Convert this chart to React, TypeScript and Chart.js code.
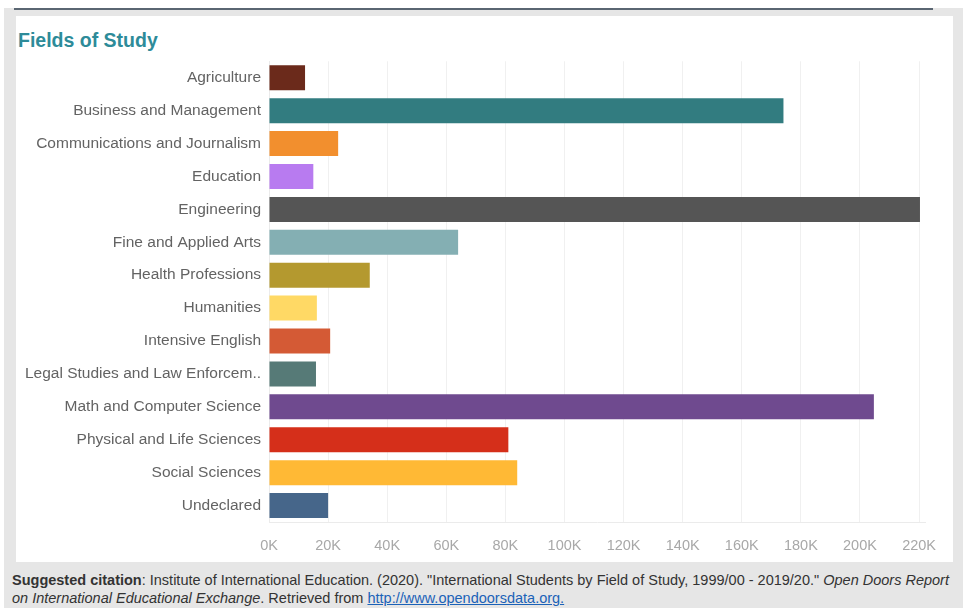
import React, { useEffect, useRef } from "react";
import { Chart, registerables } from "chart.js";

Chart.register(...registerables);

const categories = [
  "Agriculture",
  "Business and Management",
  "Communications and Journalism",
  "Education",
  "Engineering",
  "Fine and Applied Arts",
  "Health Professions",
  "Humanities",
  "Intensive English",
  "Legal Studies and Law Enforcem..",
  "Math and Computer Science",
  "Physical and Life Sciences",
  "Social Sciences",
  "Undeclared",
];

const students = [
  12200, 174100, 23400, 15000, 220300, 64000, 34100, 16200, 20700, 15900,
  204700, 81000, 84000, 20000,
];

const barColors = [
  "#6b2a1b",
  "#327c80",
  "#f28f2e",
  "#b87bf0",
  "#555555",
  "#84afb3",
  "#b4992f",
  "#ffd965",
  "#d45a35",
  "#567a77",
  "#6f4a8f",
  "#d52f1a",
  "#ffb935",
  "#46668a",
];

const tickValues = [0, 20000, 40000, 60000, 80000, 100000, 120000, 140000, 160000, 180000, 200000, 220000];
const tickLabels = ["0K", "20K", "40K", "60K", "80K", "100K", "120K", "140K", "160K", "180K", "200K", "220K"];

const FONT = "'Liberation Sans', Arial, sans-serif";

export default function App() {
  const ref = useRef<HTMLCanvasElement | null>(null);

  useEffect(() => {
    if (!ref.current) return;
    const chart = new Chart(ref.current, {
      type: "bar",
      data: {
        labels: categories,
        datasets: [
          {
            data: students,
            backgroundColor: barColors,
            borderWidth: 0,
            barPercentage: 0.76,
            categoryPercentage: 1,
          },
        ],
      },
      options: {
        indexAxis: "y",
        animation: false,
        responsive: false,
        maintainAspectRatio: false,
        layout: { padding: { top: 4, right: 28, left: 0, bottom: 0 } },
        plugins: {
          legend: { display: false },
          tooltip: { enabled: false },
          title: { display: false },
        },
        scales: {
          x: {
            min: 0,
            max: 222000,
            afterBuildTicks: (scale: any) => {
              scale.ticks = tickValues.map((v) => ({ value: v }));
            },
            afterFit: (scale: any) => {
              scale.height = 40;
            },
            grid: {
              color: "#f0f0f0",
              lineWidth: 1,
              drawTicks: false,
            },
            border: { display: true, color: "#ebebeb" },
            ticks: {
              padding: 15,
              color: "#a8a8a8",
              font: { family: FONT, size: 14.5 },
              maxRotation: 0,
              autoSkip: false,
              callback: (v: any) => {
                const i = tickValues.indexOf(Number(v));
                return i >= 0 ? tickLabels[i] : "";
              },
            },
          },
          y: {
            afterFit: (scale: any) => {
              scale.width = 253;
            },
            grid: { display: false, drawTicks: false },
            border: { display: true, color: "#ebebeb" },
            ticks: {
              padding: 8,
              color: "#636363",
              font: { family: FONT, size: 15.5 },
              autoSkip: false,
            },
          },
        },
      },
    });
    return () => chart.destroy();
  }, []);

  return (
    <div style={{ position: "absolute", left: 0, top: 0, width: 963, height: 608, background: "#ffffff", overflow: "hidden", fontFamily: FONT }}>
      <div style={{ position: "absolute", left: 4, top: 8, width: 959, height: 600, background: "#e6e6e6" }} />
      <div style={{ position: "absolute", left: 14, top: 8, width: 919, height: 2, background: "#5a6672" }} />
      <div style={{ position: "absolute", left: 16, top: 16, width: 937, height: 546, background: "#ffffff" }} />
      <div style={{ position: "absolute", left: 18, top: 28, fontSize: 19.5, fontWeight: "bold", color: "#2d8b99", lineHeight: "24px", whiteSpace: "nowrap" }}>
        Fields of Study
      </div>
      <canvas ref={ref} width={937} height={518} style={{ position: "absolute", left: 16, top: 44, width: 937, height: 518 }} />
      <div style={{ position: "absolute", left: 12, top: 571, width: 951, fontSize: 14.5, lineHeight: "18px", color: "#333333", whiteSpace: "nowrap" }}>
        <div>
          <b>Suggested citation</b>: Institute of International Education. (2020). "International Students by Field of Study, 1999/00 - 2019/20." <i>Open Doors Report</i>
        </div>
        <div>
          <i>on International Educational Exchange</i>. Retrieved from <span style={{ color: "#1b62b8", textDecoration: "underline" }}>http://www.opendoorsdata.org.</span>
        </div>
      </div>
    </div>
  );
}
